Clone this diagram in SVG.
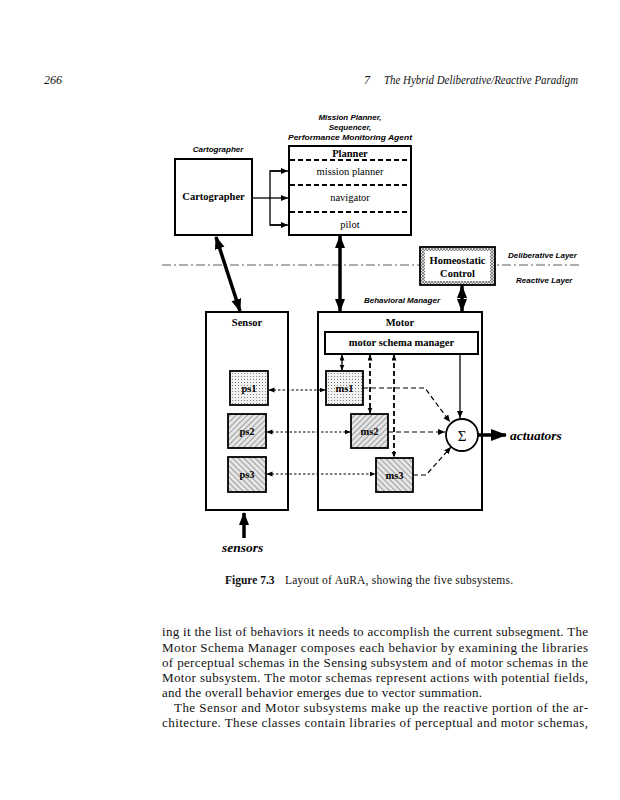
<svg xmlns="http://www.w3.org/2000/svg" width="620" height="800" viewBox="0 0 620 800">
<style>
.bg{fill:#fff}
.box{fill:#fff;stroke:#000;stroke-width:2}
.lbl{font-family:"Liberation Sans",Arial,sans-serif;font-weight:bold;font-style:italic;font-size:8px;fill:#000}
.sb{font-family:"Liberation Serif","Times New Roman",serif;font-weight:bold;font-size:10.5px;fill:#000}
.sr{font-family:"Liberation Serif","Times New Roman",serif;font-size:10.5px;fill:#000}
.sig{font-family:"Liberation Serif","Times New Roman",serif;font-size:15px;fill:#000}
.big{font-family:"Liberation Serif","Times New Roman",serif;font-weight:bold;font-style:italic;font-size:13.5px;fill:#000}
.body{font-family:"Liberation Serif","Times New Roman",serif;font-size:13px;fill:#111}
.cap{font-family:"Liberation Serif","Times New Roman",serif;font-size:11.5px;fill:#111}
.hdr{font-family:"Liberation Serif","Times New Roman",serif;font-style:italic;font-size:12px;fill:#111}
.thick{stroke:#000;stroke-width:3.5;fill:none}
.thin{stroke:#000;stroke-width:1.3;fill:none}
.dot{stroke:#000;stroke-width:1.2;fill:none;stroke-dasharray:2.5 2}
.dash{stroke:#000;stroke-width:1.2;fill:none;stroke-dasharray:5 3}
.dashb{stroke:#000;stroke-width:1.8;fill:none;stroke-dasharray:5 3}
.pdash{stroke:#000;stroke-width:2.2;fill:none;stroke-dasharray:5 3}
</style>
<defs>
<pattern id="dots" width="3" height="3" patternUnits="userSpaceOnUse">
<rect width="3" height="3" fill="#f2f2f2"/>
<rect x="1" y="1" width="0.9" height="0.9" fill="#666"/>
</pattern>
<pattern id="hatchB" width="4" height="4" patternUnits="userSpaceOnUse" patternTransform="rotate(45)">
<rect width="4" height="4" fill="#e6e6e6"/>
<line x1="0" y1="0" x2="0" y2="4" stroke="#555" stroke-width="1"/>
</pattern>
<pattern id="hatchF" width="4" height="4" patternUnits="userSpaceOnUse" patternTransform="rotate(-45)">
<rect width="4" height="4" fill="#e6e6e6"/>
<line x1="0" y1="0" x2="0" y2="4" stroke="#555" stroke-width="1"/>
</pattern>
<pattern id="cross" width="3" height="3" patternUnits="userSpaceOnUse">
<rect width="3" height="3" fill="#ddd"/>
<path d="M0,0 L3,3 M3,0 L0,3" stroke="#555" stroke-width="0.6"/>
</pattern>
<marker id="big" markerUnits="userSpaceOnUse" markerWidth="14" markerHeight="12" refX="12" refY="5" orient="auto-start-reverse">
<path d="M0,0 L13,5 L0,10 z" fill="#000"/>
</marker>
<marker id="act" markerUnits="userSpaceOnUse" markerWidth="16" markerHeight="14" refX="15" refY="6" orient="auto-start-reverse">
<path d="M0,0 L16,6 L0,12 z" fill="#000"/>
</marker>
<marker id="sm" markerUnits="userSpaceOnUse" markerWidth="8" markerHeight="7" refX="7" refY="3" orient="auto-start-reverse">
<path d="M0,0 L7,3 L0,6 z" fill="#000"/>
</marker>
<marker id="ti" markerUnits="userSpaceOnUse" markerWidth="6" markerHeight="6" refX="5.5" refY="2.5" orient="auto-start-reverse">
<path d="M0,0 L6,2.5 L0,5 z" fill="#000"/>
</marker>
</defs>
<rect class="bg" width="620" height="800"/>

<g id="header">
<text class="hdr" x="44" y="84">266</text>
<text class="hdr" x="364" y="84">7</text>
<text class="hdr" x="384" y="84" textLength="194" lengthAdjust="spacingAndGlyphs">The Hybrid Deliberative/Reactive Paradigm</text>
</g>

<g id="labels">
<text class="lbl" x="350" y="120" text-anchor="middle">Mission Planner,</text>
<text class="lbl" x="350" y="130" text-anchor="middle">Sequencer,</text>
<text class="lbl" x="350" y="140" text-anchor="middle" textLength="124" lengthAdjust="spacingAndGlyphs">Performance Monitoring Agent</text>
<text class="lbl" x="218" y="152" text-anchor="middle">Cartographer</text>
<text class="lbl" x="508" y="258">Deliberative Layer</text>
<text class="lbl" x="516" y="283">Reactive Layer</text>
<text class="lbl" x="402" y="303" text-anchor="middle">Behavioral Manager</text>
</g>

<g id="layer-line">
<line x1="162" y1="265" x2="580" y2="265" stroke="#333" stroke-width="0.8" stroke-dasharray="9 3 2 3"/>
</g>

<g id="cartographer">
<rect class="box" x="175" y="159" width="77" height="76"/>
<text class="sb" x="213.5" y="200" text-anchor="middle">Cartographer</text>
</g>

<g id="planner">
<rect class="box" x="289" y="146" width="122" height="89"/>
<text class="sb" x="350" y="157" text-anchor="middle">Planner</text>
<line class="pdash" x1="290" y1="160" x2="410" y2="160"/>
<text class="sr" x="350" y="175" text-anchor="middle">mission planner</text>
<line class="pdash" x1="290" y1="185" x2="410" y2="185"/>
<text class="sr" x="350" y="201" text-anchor="middle">navigator</text>
<line class="pdash" x1="290" y1="212" x2="410" y2="212"/>
<text class="sr" x="350" y="228" text-anchor="middle">pilot</text>
</g>

<g id="homeostatic">
<rect x="420" y="247" width="75" height="38" fill="url(#cross)" stroke="#000" stroke-width="1.8"/>
<rect x="425" y="251" width="65" height="30" fill="#fff"/>
<text class="sb" x="457.5" y="264" text-anchor="middle">Homeostatic</text>
<text class="sb" x="457.5" y="277" text-anchor="middle">Control</text>
</g>

<g id="sensor">
<rect class="box" x="206" y="312" width="82" height="198"/>
<text class="sb" x="247" y="326" text-anchor="middle">Sensor</text>
</g>

<g id="motor">
<rect class="box" x="318" y="312" width="164" height="198"/>
<text class="sb" x="400" y="326" text-anchor="middle">Motor</text>
</g>

<g id="msm">
<rect class="box" x="325" y="332" width="153" height="22"/>
<text class="sb" x="401.5" y="346" text-anchor="middle">motor schema manager</text>
</g>

<g id="ps1"><rect x="230" y="371" width="38" height="34" fill="url(#dots)" stroke="#000" stroke-width="1.8"/><text class="sb" x="249" y="392" text-anchor="middle">ps1</text></g>
<g id="ps2"><rect x="228" y="414" width="38" height="34" fill="url(#hatchB)" stroke="#000" stroke-width="1.8"/><text class="sb" x="247" y="435" text-anchor="middle">ps2</text></g>
<g id="ps3"><rect x="228" y="457" width="38" height="35" fill="url(#hatchF)" stroke="#000" stroke-width="1.8"/><text class="sb" x="247" y="478" text-anchor="middle">ps3</text></g>
<g id="ms1"><rect x="326" y="371" width="37" height="34" fill="url(#dots)" stroke="#000" stroke-width="1.8"/><text class="sb" x="344.5" y="392" text-anchor="middle">ms1</text></g>
<g id="ms2"><rect x="351" y="414" width="37" height="34" fill="url(#hatchB)" stroke="#000" stroke-width="1.8"/><text class="sb" x="369.5" y="435" text-anchor="middle">ms2</text></g>
<g id="ms3"><rect x="376" y="458" width="37" height="34" fill="url(#hatchF)" stroke="#000" stroke-width="1.8"/><text class="sb" x="394.5" y="479" text-anchor="middle">ms3</text></g>

<g id="sum">
<circle cx="462" cy="435" r="16" fill="#fff" stroke="#000" stroke-width="1.8"/>
<text class="sig" x="462" y="440.5" text-anchor="middle">Σ</text>
</g>

<g id="connectors">
<polyline class="thin" points="252,198 270,198"/>
<polyline class="thin" points="282,171 270,171 270,225 282,225"/>
<line class="thin" x1="270" y1="171" x2="288" y2="171" marker-end="url(#sm)"/>
<line class="thin" x1="270" y1="198" x2="288" y2="198" marker-end="url(#sm)"/>
<line class="thin" x1="270" y1="225" x2="288" y2="225" marker-end="url(#sm)"/>
<line class="thick" x1="216" y1="237" x2="240" y2="311" marker-start="url(#big)" marker-end="url(#big)"/>
<line class="thick" x1="340" y1="236" x2="340" y2="311" marker-start="url(#big)" marker-end="url(#big)"/>
<line class="thick" x1="462" y1="286" x2="462" y2="311" marker-start="url(#big)" marker-end="url(#big)"/>
<line class="dot" x1="269" y1="390" x2="325" y2="390" marker-start="url(#ti)" marker-end="url(#ti)"/>
<line class="dot" x1="267" y1="432" x2="350" y2="432" marker-start="url(#ti)" marker-end="url(#ti)"/>
<line class="dot" x1="267" y1="474" x2="375" y2="474" marker-start="url(#ti)" marker-end="url(#ti)"/>
<line class="thin" x1="342" y1="355" x2="342" y2="370" marker-start="url(#ti)" marker-end="url(#ti)"/>
<line class="dashb" x1="370" y1="355" x2="370" y2="413" marker-start="url(#ti)" marker-end="url(#ti)"/>
<line class="dashb" x1="394" y1="355" x2="394" y2="457" marker-start="url(#ti)" marker-end="url(#ti)"/>
<line class="thin" x1="460" y1="354" x2="460" y2="418" marker-end="url(#sm)"/>
<polyline class="dash" points="363,388 425,388 450,422" marker-end="url(#sm)"/>
<line class="dash" x1="388" y1="432" x2="445" y2="432" marker-end="url(#sm)"/>
<polyline class="dash" points="413,475 426,475 451,447" marker-end="url(#sm)"/>
<line class="thick" x1="478" y1="435" x2="506" y2="435" marker-end="url(#act)"/>
<line class="thick" x1="244" y1="538" x2="244" y2="513" marker-end="url(#big)"/>
</g>

<g id="io-labels">
<text class="big" x="510" y="440">actuators</text>
<text class="big" x="222" y="552">sensors</text>
</g>

<g id="caption">
<text class="cap" x="225" y="584" style="font-weight:bold">Figure 7.3</text>
<text class="cap" x="285" y="584" textLength="228" lengthAdjust="spacing">Layout of AuRA, showing the five subsystems.</text>
</g>

<g id="body-text">
<text class="body" x="162" y="636" textLength="426" lengthAdjust="spacing">ing it the list of behaviors it needs to accomplish the current subsegment. The</text>
<text class="body" x="162" y="652" textLength="426" lengthAdjust="spacing">Motor Schema Manager composes each behavior by examining the libraries</text>
<text class="body" x="162" y="667" textLength="426" lengthAdjust="spacing">of perceptual schemas in the Sensing subsystem and of motor schemas in the</text>
<text class="body" x="162" y="682" textLength="426" lengthAdjust="spacing">Motor subsystem. The motor schemas represent actions with potential fields,</text>
<text class="body" x="162" y="697" textLength="320" lengthAdjust="spacing">and the overall behavior emerges due to vector summation.</text>
<text class="body" x="174" y="712" textLength="414" lengthAdjust="spacing">The Sensor and Motor subsystems make up the reactive portion of the ar-</text>
<text class="body" x="162" y="727" textLength="426" lengthAdjust="spacing">chitecture. These classes contain libraries of perceptual and motor schemas,</text>
</g>
</svg>
